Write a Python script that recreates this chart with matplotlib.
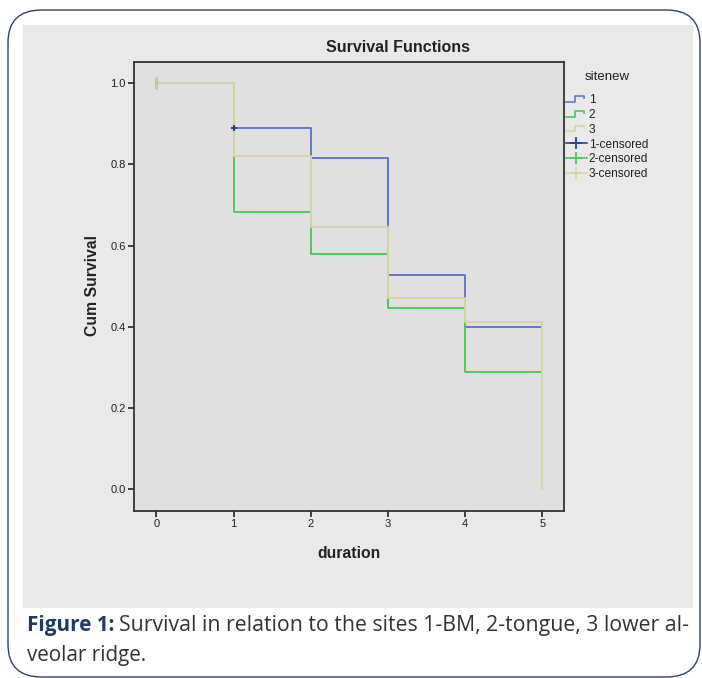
import matplotlib
matplotlib.use("Agg")
import matplotlib.pyplot as plt
from matplotlib.patches import FancyBboxPatch, Rectangle
from matplotlib.legend_handler import HandlerBase
from matplotlib.lines import Line2D

# ---------------- data ----------------
durations = [0, 1, 2, 3, 4, 5]
site1 = [1.0, 0.890, 0.817, 0.527, 0.400, 0.400]
site2 = [1.0, 0.683, 0.580, 0.447, 0.289, 0.289]
site3 = [1.0, 0.821, 0.646, 0.470, 0.411, 0.0]
cens1_x, cens1_y = [1], [0.890]
cens2_x, cens2_y = [0], [1.0]
cens3_x, cens3_y = [0], [1.0]
legend_labels = ["1", "2", "3", "1-censored", "2-censored", "3-censored"]
xticks = [0, 1, 2, 3, 4, 5]
yticks = [0.0, 0.2, 0.4, 0.6, 0.8, 1.0]

c1 = "#6079c9"
c2 = "#50c75e"
c3 = "#d8d4a2"
c1c = "#2a3f9a"
txt = "#222222"
sfont = "Liberation Sans"

W, H = 702, 678
fig = plt.figure(figsize=(W / 100, H / 100), dpi=100)
fig.patch.set_facecolor("white")

def fx(px):
    return px / W

def fy(py):
    return 1 - py / H

# outer rounded frame
frame = FancyBboxPatch((fx(8), fy(677)), fx(700) - fx(8), fy(10) - fy(677),
                       boxstyle="round,pad=0,rounding_size=0.048",
                       transform=fig.transFigure, facecolor="white",
                       edgecolor="#2d4466", linewidth=1.0, zorder=-2)
fig.patches.append(frame)
# chart gray background
bg = Rectangle((fx(23), fy(608)), fx(693) - fx(23), fy(25) - fy(608),
               transform=fig.transFigure, facecolor="#e9e9e9",
               edgecolor="none", zorder=-1)
fig.patches.append(bg)

ax = fig.add_axes([fx(134.3), fy(510.7), fx(564.3) - fx(134.3), fy(61.7) - fy(510.7)])
ax.set_zorder(1)
ax.set_facecolor("#e0e0e0")
ax.set_xlim(-0.285, 5.285)
ax.set_ylim(-0.053, 1.053)

lw = 1.4
ax.step(durations, site1, where="post", color=c1, lw=lw, zorder=3)
ax.step(durations, site2, where="post", color=c2, lw=lw, zorder=4)
ax.step(durations, site3, where="post", color=c3, lw=lw, zorder=5)
ax.plot(cens1_x, cens1_y, ls="none", marker="+", ms=5, mew=1.5, color=c1c, zorder=6)
ax.plot(cens2_x, cens2_y, ls="none", marker="|", ms=8, mew=1.8, color="#8ccf6a", zorder=6)
ax.plot(cens3_x, cens3_y, ls="none", marker="|", ms=8, mew=0.8, color=c3, zorder=7)

for s in ax.spines.values():
    s.set_color("#333333")
    s.set_linewidth(1.3)

ax.set_xticks(xticks)
ax.set_xticklabels([str(t) for t in xticks])
ax.set_yticks(yticks)
ax.set_yticklabels([f"{t:.1f}" for t in yticks])
ax.tick_params(direction="out", length=4.5, width=1.3, color="#333333",
               labelsize=8, labelcolor=txt, pad=1.5)
for lab in ax.get_xticklabels() + ax.get_yticklabels():
    lab.set_family(sfont)

fig.text(fx(349), fy(553), "duration", ha="center", va="center", fontsize=11.3,
         fontweight="bold", family=sfont, color=txt)
fig.text(fx(92.5), fy(285), "Cum Survival", ha="center", va="center", rotation=90,
         fontsize=11.3, fontweight="bold", family=sfont, color=txt)

fig.text(fx(398), fy(47), "Survival Functions", ha="center", va="center",
         fontsize=11.5, fontweight="bold", family=sfont, color=txt)


class StepHandler(HandlerBase):
    def __init__(self, color):
        super().__init__()
        self.color = color

    def create_artists(self, legend, orig_handle, xdescent, ydescent, width, height,
                       fontsize, trans):
        x0 = -xdescent
        y0 = -ydescent
        xs = [x0, x0 + width * 0.45, x0 + width * 0.45, x0 + width * 0.85, x0 + width * 0.85]
        ys = [y0 + height * 0.15, y0 + height * 0.15, y0 + height * 0.85, y0 + height * 0.85, y0 + height * 0.55]
        ln = Line2D(xs, ys, color=self.color, lw=1.2, transform=trans)
        return [ln]


h1 = Line2D([], [], color=c1)
h2 = Line2D([], [], color=c2)
h3 = Line2D([], [], color=c3)
h4 = Line2D([], [], color=c1c, marker="+", ms=8, mew=1.3, lw=1.2)
h5 = Line2D([], [], color=c2, marker="+", ms=8, mew=1.3, lw=1.2)
h6 = Line2D([], [], color=c3, marker="+", ms=8, mew=1.3, lw=1.2)

lfs = 8.6
leg = fig.legend([h1, h2, h3, h4, h5, h6], legend_labels,
                 loc="upper left", bbox_to_anchor=(fx(566), fy(94)),
                 bbox_transform=fig.transFigure, frameon=False,
                 handlelength=1.75, handletextpad=0.15,
                 labelspacing=0.24, borderpad=0, borderaxespad=0,
                 handler_map={h1: StepHandler(c1), h2: StepHandler(c2), h3: StepHandler(c3)},
                 prop={"family": sfont, "size": lfs})
for t in leg.get_texts():
    t.set_color(txt)

fig.text(fx(585), fy(77), "sitenew", ha="left", va="center", fontsize=9.5,
         family=sfont, color=txt)

# caption
cap_font = "Open Sans"
renderer = fig.canvas.get_renderer()

def fitted_text(x0, x1, ybase, s, color, weight="normal"):
    t = fig.text(fx(x0), fy(ybase), s, ha="left", va="baseline", fontsize=14,
                 fontweight=weight, family=cap_font, color=color)
    w = t.get_window_extent(renderer).width
    t.set_fontsize(14 * (x1 - x0) / w)
    return t

fitted_text(27, 115, 631, "Figure 1:", "#1f3b63", weight="bold")
fitted_text(119, 690, 631, "Survival in relation to the sites 1-BM, 2-tongue, 3 lower al-", "#333333")
fitted_text(27, 147, 661, "veolar ridge.", "#333333")

fig.savefig("out.png", dpi=100, facecolor="white")
